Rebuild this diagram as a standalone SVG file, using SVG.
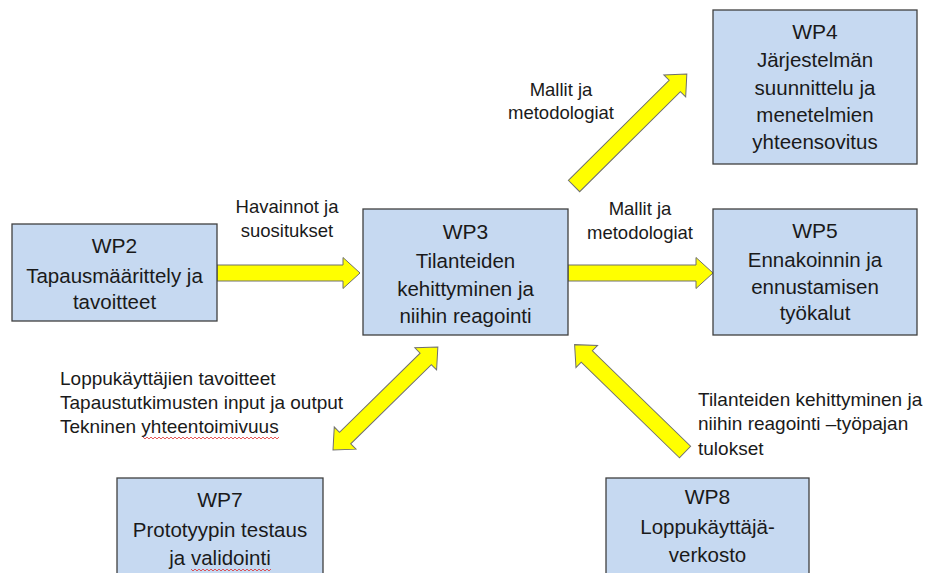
<svg xmlns="http://www.w3.org/2000/svg" width="928" height="573" viewBox="0 0 928 573">
<style>
.box{fill:#C6D9F1;stroke:#404040;stroke-width:1.3}
.arr{fill:#FFFF00;stroke:#6f6f6f;stroke-width:1;stroke-linejoin:miter}
text{font-family:"Liberation Sans",Arial,sans-serif;fill:#1a1a1a}
.t{font-size:21px;text-anchor:middle}
.b{font-size:20.5px;text-anchor:middle}
.l{font-size:19px}
.lc{font-size:18.5px;text-anchor:middle}
.sq{fill:none;stroke:#e03030;stroke-width:0.8}
</style>
<rect width="928" height="573" fill="#ffffff"/>
<g id="connectors">
<polygon class="arr" transform="translate(217,273)" points="0,-8 126,-8 126,-15.5 143,0 126,15.5 126,8 0,8"/>
<polygon class="arr" transform="translate(568,273)" points="0,-8 128,-8 128,-15.5 145,0 128,15.5 128,8 0,8"/>
<polygon class="arr" transform="translate(574,186) rotate(-44.8)" points="0,-8 142,-8 142,-15.5 159,0 142,15.5 142,8 0,8"/>
<polygon class="arr" transform="translate(333,450) rotate(-44.5)" points="0,0 17,-15.5 17,-8 130,-8 130,-15.5 147,0 130,15.5 130,8 17,8 17,15.5"/>
<polygon class="arr" transform="translate(685,452) rotate(-135.8)" points="0,-8 137,-8 137,-15.5 154,0 137,15.5 137,8 0,8"/>
</g>
<g id="WP2">
<rect class="box" x="12" y="224" width="205" height="97"/>
<text class="t" x="114.5" y="253">WP2</text>
<text class="b" x="114.5" y="283">Tapausmäärittely ja</text>
<text class="b" x="114.5" y="309">tavoitteet</text>
</g>
<g id="WP3">
<rect class="box" x="363" y="209" width="205" height="126"/>
<text class="t" x="465.5" y="239">WP3</text>
<text class="b" x="465.5" y="268">Tilanteiden</text>
<text class="b" x="465.5" y="296">kehittyminen ja</text>
<text class="b" x="465.5" y="323">niihin reagointi</text>
</g>
<g id="WP4">
<rect class="box" x="713" y="10" width="204" height="154"/>
<text class="t" x="815" y="39">WP4</text>
<text class="b" x="815" y="67">Järjestelmän</text>
<text class="b" x="815" y="95">suunnittelu ja</text>
<text class="b" x="815" y="122">menetelmien</text>
<text class="b" x="815" y="149">yhteensovitus</text>
</g>
<g id="WP5">
<rect class="box" x="713" y="209" width="204" height="126"/>
<text class="t" x="815" y="238">WP5</text>
<text class="b" x="815" y="267">Ennakoinnin ja</text>
<text class="b" x="815" y="294">ennustamisen</text>
<text class="b" x="815" y="320">työkalut</text>
</g>
<g id="WP7">
<rect class="box" x="117" y="478" width="206" height="110"/>
<text class="t" x="220" y="507">WP7</text>
<text class="b" x="220" y="537">Prototyypin testaus</text>
<text class="b" x="220" y="565">ja validointi</text>
<path class="sq" d="M191,569 l2,2 l2,-2 l2,2 l2,-2 l2,2 l2,-2 l2,2 l2,-2 l2,2 l2,-2 l2,2 l2,-2 l2,2 l2,-2 l2,2 l2,-2 l2,2 l2,-2 l2,2 l2,-2 l2,2 l2,-2 l2,2 l2,-2 l2,2 l2,-2 l2,2 l2,-2 l2,2 l2,-2 l2,2 l2,-2 l2,2 l2,-2 l2,2 l2,-2 l2,2 l2,-2 l2,2 l2,-2"/>
</g>
<g id="WP8">
<rect class="box" x="606" y="478" width="203" height="110"/>
<text class="t" x="707.5" y="504">WP8</text>
<text class="b" x="707.5" y="534">Loppukäyttäjä-</text>
<text class="b" x="707.5" y="562">verkosto</text>
</g>
<g id="labels">
<text class="lc" x="287" y="213">Havainnot ja</text>
<text class="lc" x="287" y="237">suositukset</text>
<text class="lc" x="561" y="96">Mallit ja</text>
<text class="lc" x="561" y="119">metodologiat</text>
<text class="lc" x="640" y="215">Mallit ja</text>
<text class="lc" x="640" y="239">metodologiat</text>
<text class="l" x="60" y="385">Loppukäyttäjien tavoitteet</text>
<text class="l" x="60" y="409">Tapaustutkimusten input ja output</text>
<text class="l" x="60" y="433">Tekninen yhteentoimivuus</text>
<path class="sq" d="M143,437 l2,2 l2,-2 l2,2 l2,-2 l2,2 l2,-2 l2,2 l2,-2 l2,2 l2,-2 l2,2 l2,-2 l2,2 l2,-2 l2,2 l2,-2 l2,2 l2,-2 l2,2 l2,-2 l2,2 l2,-2 l2,2 l2,-2 l2,2 l2,-2 l2,2 l2,-2 l2,2 l2,-2 l2,2 l2,-2 l2,2 l2,-2 l2,2 l2,-2 l2,2 l2,-2 l2,2 l2,-2 l2,2 l2,-2 l2,2 l2,-2 l2,2 l2,-2 l2,2 l2,-2 l2,2 l2,-2 l2,2 l2,-2 l2,2 l2,-2 l2,2 l2,-2 l2,2 l2,-2 l2,2 l2,-2 l2,2 l2,-2 l2,2 l2,-2 l2,2 l2,-2 l2,2 l2,-2"/>
<text class="l" x="698" y="406">Tilanteiden kehittyminen ja</text>
<text class="l" x="698" y="430">niihin reagointi –työpajan</text>
<text class="l" x="698" y="455">tulokset</text>
</g>
</svg>
